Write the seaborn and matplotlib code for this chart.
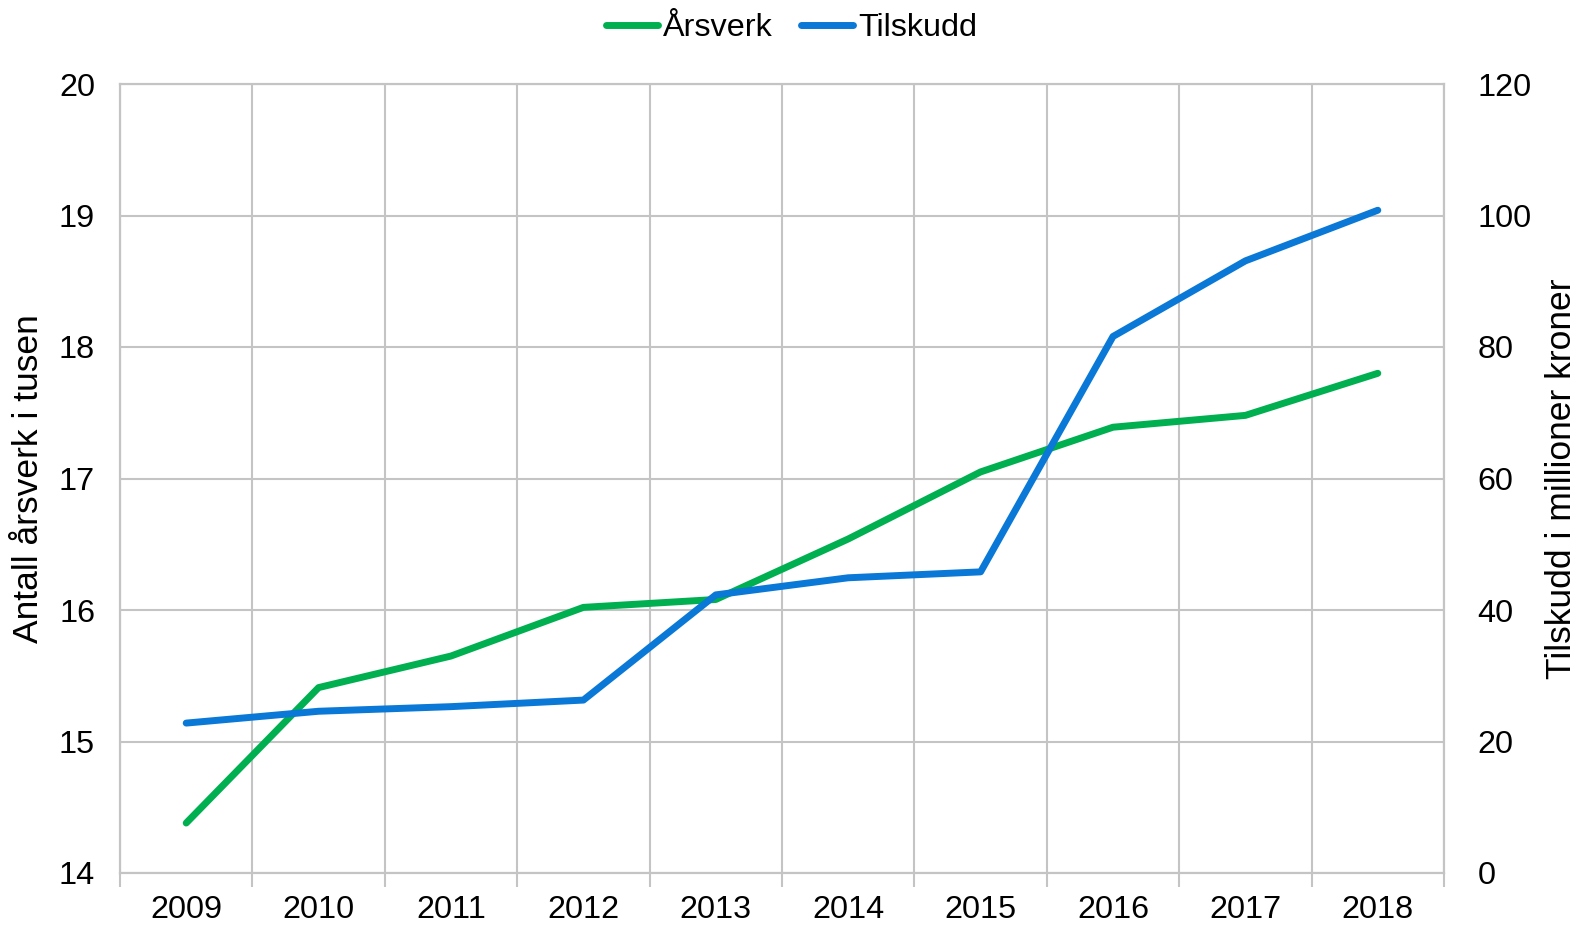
import matplotlib
matplotlib.use("Agg")
import matplotlib.pyplot as plt
from matplotlib.lines import Line2D
import seaborn as sns
import pandas as pd
import numpy as np

years = ["2009", "2010", "2011", "2012", "2013", "2014", "2015", "2016", "2017", "2018"]
arsverk = [14.38, 15.41, 15.65, 16.02, 16.08, 16.54, 17.05, 17.39, 17.48, 17.80]
tilskudd = [22.8, 24.6, 25.3, 26.3, 42.3, 44.9, 45.8, 81.6, 93.1, 100.8]

sns.set_theme(style="white")
plt.rcParams["font.family"] = ["Liberation Sans", "DejaVu Sans"]
plt.rcParams["text.color"] = "black"
plt.rcParams["axes.labelcolor"] = "black"
plt.rcParams["xtick.color"] = "black"
plt.rcParams["ytick.color"] = "black"

GREEN = "#00B050"
BLUE = "#0A78D6"
GRID = "#C4C4C4"
FS = 23.3
FSL = 25.5
LW = 5.0

df = pd.DataFrame({"x": np.arange(len(years)), "Årsverk": arsverk, "Tilskudd": tilskudd})

fig = plt.figure(figsize=(15.83, 9.26), dpi=100)
ax = fig.add_axes([120/1583, 1-873/926, (1444-120)/1583, (873-84)/926])
ax2 = ax.twinx()

sns.lineplot(data=df, x="x", y="Årsverk", ax=ax, color=GREEN, linewidth=LW,
             solid_capstyle="round", zorder=3)
sns.lineplot(data=df, x="x", y="Tilskudd", ax=ax2, color=BLUE, linewidth=LW,
             solid_capstyle="round", zorder=3)

ax.set_xlim(-0.5, len(years) - 0.5)
ax.set_ylim(14, 20)
ax2.set_ylim(0, 120)
ax.set_yticks(np.arange(14, 21, 1))
ax2.set_yticks(np.arange(0, 121, 20))

ax.set_xticks(np.arange(len(years)))
ax.set_xticklabels(years)
ax.set_xticks(np.arange(len(years) + 1) - 0.5, minor=True)
ax.tick_params(axis="x", which="major", bottom=True, length=0, labelsize=FS, pad=16,
               labelcolor="black")
ax.tick_params(axis="x", which="minor", bottom=True, length=10, width=1.5, color=GRID,
               direction="out")
ax.tick_params(axis="y", length=0, labelsize=FS, pad=18, labelcolor="black")
ax2.tick_params(axis="y", length=0, labelsize=FS, pad=24, labelcolor="black")

ax.grid(True, axis="y", which="major", color=GRID, linewidth=1.5)
ax.grid(True, axis="x", which="minor", color=GRID, linewidth=1.5)
ax.grid(False, axis="x", which="major")
ax2.grid(False)

for a in (ax, ax2):
    for s in a.spines.values():
        s.set_color(GRID)
        s.set_linewidth(1.5)

ax.set_xlabel("")
ax.set_ylabel("Antall årsverk i tusen", fontsize=FSL, labelpad=10, color="black")
ax2.set_ylabel("Tilskudd i millioner kroner", fontsize=FSL, labelpad=10, color="black")

handles = [Line2D([0], [0], color=GREEN, lw=LW, solid_capstyle="round"),
           Line2D([0], [0], color=BLUE, lw=LW, solid_capstyle="round")]
fig.legend(handles, ["Årsverk", "Tilskudd"], loc="upper center", bbox_to_anchor=(0.5, 1.017),
           ncol=2, frameon=False, fontsize=FS, handlelength=1.6, handletextpad=0.15,
           columnspacing=0.9)

fig.savefig("out.png", dpi=100)
